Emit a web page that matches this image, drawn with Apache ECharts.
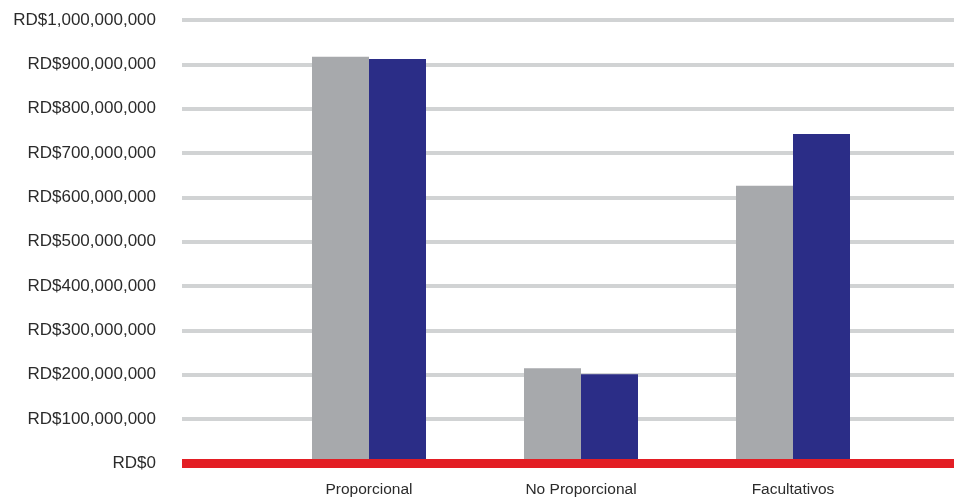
<!DOCTYPE html>
<html>
<head>
<meta charset="utf-8">
<script src="https://cdn.jsdelivr.net/npm/echarts@6/dist/echarts.min.js"></script>
<style>
html,body{margin:0;padding:0;background:#fff;}
#chart{width:954px;height:499px;}
</style>
</head>
<body>
<div id="chart"></div>
<script>
var categories = ['Proporcional', 'No Proporcional', 'Facultativos'];
var seriesGray = [917000000, 215000000, 626000000];
var seriesBlue = [912000000, 201000000, 743000000];
var yMin = 0, yMax = 1000000000, yInterval = 100000000;

function fmt(v) {
  return 'RD$' + String(Math.round(v)).replace(/\B(?=(\d{3})+(?!\d))/g, ',');
}

var chart = echarts.init(document.getElementById('chart'), null, {renderer: 'canvas'});
var font = 'Liberation Sans, Arial, sans-serif';
chart.setOption({
  animation: false,
  grid: [
    {left: 182, right: 0, top: 20, bottom: 35.5},
    {left: 263, right: 55, top: 20, bottom: 35.5}
  ],
  xAxis: [
    {
      gridIndex: 0, type: 'category', data: categories, z: 10,
      axisLine: {show: true, lineStyle: {color: '#e31e24', width: 9, cap: 'butt'}},
      axisTick: {show: false}, axisLabel: {show: false}, splitLine: {show: false}
    },
    {
      gridIndex: 1, type: 'category', data: categories,
      axisLine: {show: false}, axisTick: {show: false},
      axisLabel: {color: '#2b2b2b', fontSize: 15.5, fontFamily: font, margin: 18}
    }
  ],
  yAxis: [
    {
      gridIndex: 0, type: 'value', min: yMin, max: yMax, interval: yInterval,
      axisLine: {show: false}, axisTick: {show: false},
      axisLabel: {color: '#2b2b2b', fontSize: 17, fontFamily: font, margin: 26, formatter: fmt},
      splitLine: {lineStyle: {color: '#d1d3d4', width: 4}}
    },
    {
      gridIndex: 1, type: 'value', min: yMin, max: yMax, interval: yInterval,
      show: false, splitLine: {show: false}
    }
  ],
  series: [
    {
      name: 'Serie 1', type: 'bar', xAxisIndex: 1, yAxisIndex: 1,
      data: seriesGray, barWidth: 57, barGap: '0%',
      itemStyle: {color: '#a7a9ac'}
    },
    {
      name: 'Serie 2', type: 'bar', xAxisIndex: 1, yAxisIndex: 1,
      data: seriesBlue, barWidth: 57, barGap: '0%',
      itemStyle: {color: '#2b2d87'}
    }
  ]
});
</script>
</body>
</html>
